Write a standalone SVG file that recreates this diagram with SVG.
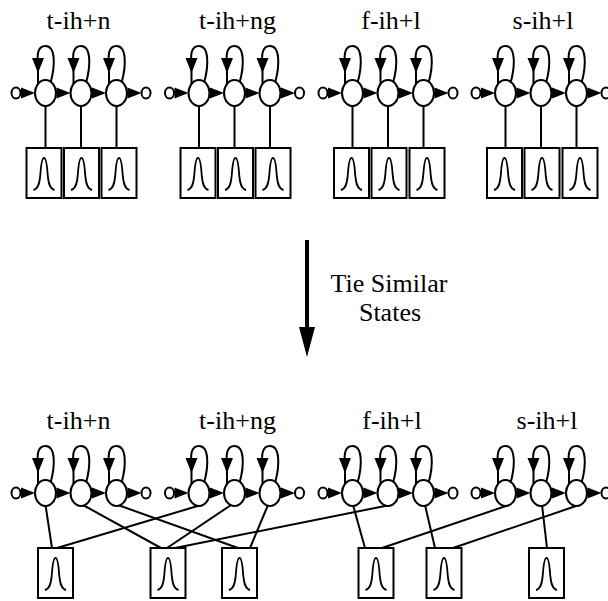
<svg xmlns="http://www.w3.org/2000/svg" xmlns:xlink="http://www.w3.org/1999/xlink" width="608" height="601" viewBox="0 0 608 601">
  <style>
    .ln { fill: none; stroke: #000; stroke-width: 2; }
    .st { fill: #fff; stroke: #000; stroke-width: 2; }
    .end { fill: #fff; stroke: #000; stroke-width: 2; }
    .head { fill: #000; stroke: none; }
    .box { fill: #fff; stroke: #000; stroke-width: 2; }
    .curve { fill: none; stroke: #000; stroke-width: 1.8; }
    .lbl { font-family: "Liberation Serif", "Times New Roman", serif; font-size: 26px; fill: #000; text-anchor: middle; }
  </style>
  <defs>
    <!-- self-loop drawn above a state centred at the origin -->
    <path id="loop" d="M5,-10 C10,-28 10,-47 0,-47 C-10,-47 -8,-34 -7.5,-20 L-7.5,-9"/>
    <!-- arrowheads: tip at the origin -->
    <path id="tipdown" d="M0,0 L-6,-15 L6,-15 Z"/>
    <path id="tipright" d="M0,0 L-14,-5.5 L-14,5.5 Z"/>
    <!-- output distribution: box with a gaussian bump -->
    <g id="pdf">
      <rect class="box" width="35" height="50"/>
      <path class="curve" d="M7,42 C11.5,41 13,36 13.8,27 C14.6,15 15.6,10 17.5,10 C19.4,10 20.4,15 21.2,27 C22,36 23.5,41 28,42"/>
    </g>
    <g id="state">
      <use xlink:href="#loop" class="ln"/>
      <use xlink:href="#tipdown" x="-7.5" y="-20" class="head"/>
      <ellipse class="st" rx="10.5" ry="13"/>
    </g>
  </defs>

  <!-- connectors: state-to-distribution lines, transition arrows, big arrow -->
  <g id="connectors">
    <!-- top row: one distribution per state -->
    <g class="ln">
      <path d="M45.5,106V148M81,106V148M116.5,106V148"/>
      <path d="M199,106V148M234.5,106V148M270,106V148"/>
      <path d="M352.5,106V148M388,106V148M423.5,106V148"/>
      <path d="M505.5,106V148M541,106V148M576.5,106V148"/>
    </g>
    <!-- bottom row: tied distributions -->
    <g class="ln">
      <path d="M45.5,505L52,548"/>
      <path d="M201,505L57,548"/>
      <path d="M83,505L161,548"/>
      <path d="M231,505L167,548"/>
      <path d="M390,505L175,548"/>
      <path d="M118,505L238,548"/>
      <path d="M268,505L250,548"/>
      <path d="M353,505L365,548"/>
      <path d="M509,505L382,548"/>
      <path d="M425,505L435,548"/>
      <path d="M579,505L453,548"/>
      <path d="M542,505L547,548"/>
    </g>
    <!-- transition arrowheads, top row -->
    <g class="head">
      <use xlink:href="#tipright" x="35" y="93"/><use xlink:href="#tipright" x="70.5" y="93"/><use xlink:href="#tipright" x="106" y="93"/><use xlink:href="#tipright" x="141.5" y="93"/>
      <use xlink:href="#tipright" x="188.5" y="93"/><use xlink:href="#tipright" x="224" y="93"/><use xlink:href="#tipright" x="259.5" y="93"/><use xlink:href="#tipright" x="295" y="93"/>
      <use xlink:href="#tipright" x="342" y="93"/><use xlink:href="#tipright" x="377.5" y="93"/><use xlink:href="#tipright" x="413" y="93"/><use xlink:href="#tipright" x="448.5" y="93"/>
      <use xlink:href="#tipright" x="495" y="93"/><use xlink:href="#tipright" x="530.5" y="93"/><use xlink:href="#tipright" x="566" y="93"/><use xlink:href="#tipright" x="601.5" y="93"/>
    </g>
    <!-- transition arrowheads, bottom row -->
    <g class="head">
      <use xlink:href="#tipright" x="35" y="493"/><use xlink:href="#tipright" x="70.5" y="493"/><use xlink:href="#tipright" x="106" y="493"/><use xlink:href="#tipright" x="141.5" y="493"/>
      <use xlink:href="#tipright" x="188.5" y="493"/><use xlink:href="#tipright" x="224" y="493"/><use xlink:href="#tipright" x="259.5" y="493"/><use xlink:href="#tipright" x="295" y="493"/>
      <use xlink:href="#tipright" x="342" y="493"/><use xlink:href="#tipright" x="377.5" y="493"/><use xlink:href="#tipright" x="413" y="493"/><use xlink:href="#tipright" x="448.5" y="493"/>
      <use xlink:href="#tipright" x="495" y="493"/><use xlink:href="#tipright" x="530.5" y="493"/><use xlink:href="#tipright" x="566" y="493"/><use xlink:href="#tipright" x="601.5" y="493"/>
    </g>
    <!-- tying step arrow -->
    <g id="tie-arrow">
      <line x1="307" y1="240" x2="307" y2="330" stroke="#000" stroke-width="4"/>
      <polygon points="299,327 315,327 307,357" fill="#000"/>
    </g>
  </g>

  <!-- model labels -->
  <g id="labels-top">
    <text class="lbl" x="78.5" y="29">t-ih+n</text>
    <text class="lbl" x="237.5" y="29">t-ih+ng</text>
    <text class="lbl" x="391" y="29">f-ih+l</text>
    <text class="lbl" x="543" y="29">s-ih+l</text>
  </g>
  <g id="labels-bottom">
    <text class="lbl" x="78.5" y="429">t-ih+n</text>
    <text class="lbl" x="237.5" y="429">t-ih+ng</text>
    <text class="lbl" x="392" y="429">f-ih+l</text>
    <text class="lbl" x="547" y="429">s-ih+l</text>
  </g>
  <g id="tie-label">
    <text class="lbl" x="389" y="292">Tie Similar</text>
    <text class="lbl" x="390" y="321">States</text>
  </g>

  <!-- top row: untied models -->
  <g id="top-t-ih-n">
    <ellipse id="top-t-ih-n-entry" class="end" cx="16" cy="93" rx="4.5" ry="5.5"/>
    <use id="top-t-ih-n-s2" xlink:href="#state" x="45.5" y="93"/>
    <use id="top-t-ih-n-s3" xlink:href="#state" x="81" y="93"/>
    <use id="top-t-ih-n-s4" xlink:href="#state" x="116.5" y="93"/>
    <ellipse id="top-t-ih-n-exit" class="end" cx="146" cy="93" rx="4.5" ry="5.5"/>
  </g>
  <g id="top-t-ih-ng">
    <ellipse id="top-t-ih-ng-entry" class="end" cx="169.5" cy="93" rx="4.5" ry="5.5"/>
    <use id="top-t-ih-ng-s2" xlink:href="#state" x="199" y="93"/>
    <use id="top-t-ih-ng-s3" xlink:href="#state" x="234.5" y="93"/>
    <use id="top-t-ih-ng-s4" xlink:href="#state" x="270" y="93"/>
    <ellipse id="top-t-ih-ng-exit" class="end" cx="299.5" cy="93" rx="4.5" ry="5.5"/>
  </g>
  <g id="top-f-ih-l">
    <ellipse id="top-f-ih-l-entry" class="end" cx="323" cy="93" rx="4.5" ry="5.5"/>
    <use id="top-f-ih-l-s2" xlink:href="#state" x="352.5" y="93"/>
    <use id="top-f-ih-l-s3" xlink:href="#state" x="388" y="93"/>
    <use id="top-f-ih-l-s4" xlink:href="#state" x="423.5" y="93"/>
    <ellipse id="top-f-ih-l-exit" class="end" cx="453" cy="93" rx="4.5" ry="5.5"/>
  </g>
  <g id="top-s-ih-l">
    <ellipse id="top-s-ih-l-entry" class="end" cx="476" cy="93" rx="4.5" ry="5.5"/>
    <use id="top-s-ih-l-s2" xlink:href="#state" x="505.5" y="93"/>
    <use id="top-s-ih-l-s3" xlink:href="#state" x="541" y="93"/>
    <use id="top-s-ih-l-s4" xlink:href="#state" x="576.5" y="93"/>
    <ellipse id="top-s-ih-l-exit" class="end" cx="606" cy="93" rx="4.5" ry="5.5"/>
  </g>

  <!-- top row distributions -->
  <g id="top-pdfs">
    <use id="pdf-t1" xlink:href="#pdf" x="26.5" y="148"/>
    <use id="pdf-t2" xlink:href="#pdf" x="64" y="148"/>
    <use id="pdf-t3" xlink:href="#pdf" x="101.5" y="148"/>
    <use id="pdf-t4" xlink:href="#pdf" x="180.5" y="148"/>
    <use id="pdf-t5" xlink:href="#pdf" x="218" y="148"/>
    <use id="pdf-t6" xlink:href="#pdf" x="255.5" y="148"/>
    <use id="pdf-t7" xlink:href="#pdf" x="334" y="148"/>
    <use id="pdf-t8" xlink:href="#pdf" x="371.5" y="148"/>
    <use id="pdf-t9" xlink:href="#pdf" x="409.5" y="148"/>
    <use id="pdf-t10" xlink:href="#pdf" x="487" y="148"/>
    <use id="pdf-t11" xlink:href="#pdf" x="524.5" y="148"/>
    <use id="pdf-t12" xlink:href="#pdf" x="562.5" y="148"/>
  </g>

  <!-- bottom row: tied models -->
  <g id="bot-t-ih-n">
    <ellipse id="bot-t-ih-n-entry" class="end" cx="16" cy="493" rx="4.5" ry="5.5"/>
    <use id="bot-t-ih-n-s2" xlink:href="#state" x="45.5" y="493"/>
    <use id="bot-t-ih-n-s3" xlink:href="#state" x="81" y="493"/>
    <use id="bot-t-ih-n-s4" xlink:href="#state" x="116.5" y="493"/>
    <ellipse id="bot-t-ih-n-exit" class="end" cx="146" cy="493" rx="4.5" ry="5.5"/>
  </g>
  <g id="bot-t-ih-ng">
    <ellipse id="bot-t-ih-ng-entry" class="end" cx="169.5" cy="493" rx="4.5" ry="5.5"/>
    <use id="bot-t-ih-ng-s2" xlink:href="#state" x="199" y="493"/>
    <use id="bot-t-ih-ng-s3" xlink:href="#state" x="234.5" y="493"/>
    <use id="bot-t-ih-ng-s4" xlink:href="#state" x="270" y="493"/>
    <ellipse id="bot-t-ih-ng-exit" class="end" cx="299.5" cy="493" rx="4.5" ry="5.5"/>
  </g>
  <g id="bot-f-ih-l">
    <ellipse id="bot-f-ih-l-entry" class="end" cx="323" cy="493" rx="4.5" ry="5.5"/>
    <use id="bot-f-ih-l-s2" xlink:href="#state" x="352.5" y="493"/>
    <use id="bot-f-ih-l-s3" xlink:href="#state" x="388" y="493"/>
    <use id="bot-f-ih-l-s4" xlink:href="#state" x="423.5" y="493"/>
    <ellipse id="bot-f-ih-l-exit" class="end" cx="453" cy="493" rx="4.5" ry="5.5"/>
  </g>
  <g id="bot-s-ih-l">
    <ellipse id="bot-s-ih-l-entry" class="end" cx="476" cy="493" rx="4.5" ry="5.5"/>
    <use id="bot-s-ih-l-s2" xlink:href="#state" x="505.5" y="493"/>
    <use id="bot-s-ih-l-s3" xlink:href="#state" x="541" y="493"/>
    <use id="bot-s-ih-l-s4" xlink:href="#state" x="576.5" y="493"/>
    <ellipse id="bot-s-ih-l-exit" class="end" cx="606" cy="493" rx="4.5" ry="5.5"/>
  </g>

  <!-- bottom row: shared distributions -->
  <g id="bot-pdfs">
    <use id="pdf-a" xlink:href="#pdf" x="38" y="548"/>
    <use id="pdf-b" xlink:href="#pdf" x="150.5" y="548"/>
    <use id="pdf-c" xlink:href="#pdf" x="222" y="548"/>
    <use id="pdf-d" xlink:href="#pdf" x="358.5" y="548"/>
    <use id="pdf-e" xlink:href="#pdf" x="426.5" y="548"/>
    <use id="pdf-f" xlink:href="#pdf" x="529" y="548"/>
  </g>
</svg>
